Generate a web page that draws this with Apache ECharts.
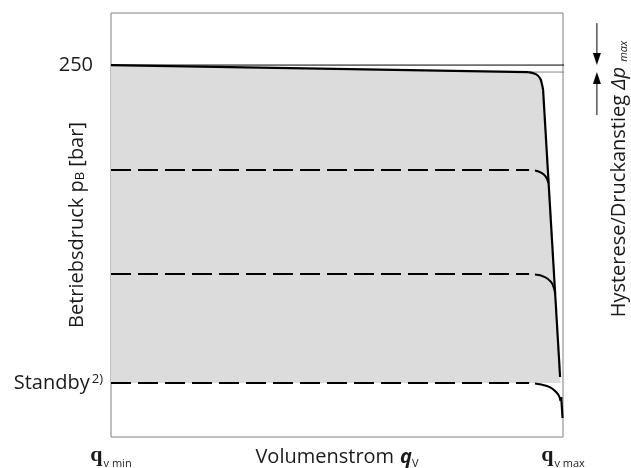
<!DOCTYPE html>
<html><head><meta charset="utf-8">
<script src="https://cdn.jsdelivr.net/npm/echarts@6.0.0/dist/echarts.min.js"></script>
<style>html,body{margin:0;padding:0;background:#fff}#c{width:631px;height:468px}</style>
</head><body><div id="c"></div>
<script>
// x: flow as % of q_v max, y: pressure in bar (schematic)
const xTicks = [0, 100];
const xTickLabels = ['v min', 'v max'];
const yTicks = [36.3, 250];
const yTickLabels = ['Standby', '250'];
const topLine = [[0, 250], [92.3, 245.3]];
const topCorner = [[92.3, 245.3], [94.0, 243.9], [94.9, 241.2], [95.3, 237.6], [95.6, 233.2]];
const steepSolid = [[95.6, 233.2], [99.36, 40.3]];
const steepDashed = [[99.6, 26.9], [99.9, 12.8]];
const levelA = [[0, 179.4], [92.5, 179.4]];
const cornerA = [[93.8, 179.1], [95.35, 177.4], [96.24, 174.7], [96.79, 170.7]];
const levelB = [[0, 109.5], [92.5, 109.5]];
const cornerB = [[93.8, 109.2], [96.0, 107.5], [97.35, 104.2], [98.0, 100.1], [98.27, 96.1]];
const levelC = [[0, 36.3], [92.5, 36.3]];
const cornerC = [[93.8, 36.0], [96.46, 34.3], [98.0, 31.6], [99.0, 28.2], [99.45, 24.2]];
const fillEdge = [[0, 250], [92.3, 245.3], [94.0, 243.9], [94.9, 241.2], [95.3, 237.6], [95.6, 233.2], [99.42, 36.3], [0, 36.3]];
const hystTop = [[0, 250], [108.8, 250]];
const hystBottom = [[92.3, 245.3], [108.8, 245.3]];
const arrowX = 107.5;
const arrowDown = [278.2, 250];
const arrowUp = [216.4, 245.3];

const chart = echarts.init(document.getElementById('c'), null, {renderer: 'canvas'});
const FONT = 'Open Sans';
const FS = 20;
const lineS = (data, extra) => Object.assign({
  type: 'line', data: data, symbol: 'none', silent: true, z: 5,
  lineStyle: {color: '#000', width: 2}
}, extra || {});

chart.setOption({
  animation: false,
  textStyle: {fontFamily: FONT, color: '#1a1a1a'},
  grid: {left: 111, right: 68, top: 13, bottom: 31, containLabel: false, outerBoundsMode: 'none',
    show: true, borderColor: '#808080', borderWidth: 1, backgroundColor: 'transparent'},
  xAxis: {
    type: 'value', min: 0, max: 100, interval: 100,
    axisLine: {show: false}, axisTick: {show: false}, splitLine: {show: false},
    axisLabel: {
      margin: 7,
      formatter: v => '{q|q}{s|' + xTickLabels[xTicks.indexOf(v)] + '}',
      rich: {
        q: {fontFamily: 'Liberation Serif', fontWeight: 'bold', fontSize: 22, color: '#1a1a1a', verticalAlign: 'bottom'},
        s: {fontFamily: FONT, fontSize: 11, color: '#1a1a1a', verticalAlign: 'bottom', padding: [0, 0, -3, 1]}
      }
    },
    name: 'Volumenstrom{q|q}{s|V}', nameLocation: 'middle', nameGap: 10, nameMoveOverlap: false,
    nameTextStyle: {fontFamily: FONT, fontSize: FS, color: '#1a1a1a', verticalAlign: 'top',
      rich: {
        q: {fontFamily: FONT, fontStyle: 'italic', fontWeight: 'bold', fontSize: FS, color: '#1a1a1a', padding: [0, 0, 0, 6]},
        s: {fontFamily: FONT, fontSize: 11, color: '#1a1a1a', verticalAlign: 'bottom', padding: [0, 0, -2, 0]}
      }
    }
  },
  yAxis: {
    type: 'value', min: 0, max: 285,
    axisLine: {show: false}, axisTick: {show: false}, splitLine: {show: false},
    axisLabel: {
      customValues: yTicks, margin: 8,
      formatter: v => v === 250 ? '{n|' + yTickLabels[1] + '}' : '{t|' + yTickLabels[0] + '}{sup|2)}',
      rich: {
        n: {fontFamily: FONT, fontSize: FS, color: '#1a1a1a', padding: [0, 10, 0, 0]},
        t: {fontFamily: FONT, fontSize: FS, color: '#1a1a1a'},
        sup: {fontFamily: FONT, fontSize: 13, color: '#1a1a1a', verticalAlign: 'top', padding: [0, 0, 0, 2]}
      }
    },
    name: 'Betriebsdruck p{b|B} [bar]', nameLocation: 'middle', nameGap: 24, nameMoveOverlap: false,
    nameTextStyle: {fontFamily: FONT, fontSize: FS, color: '#1a1a1a',
      rich: {b: {fontFamily: FONT, fontSize: 13, color: '#1a1a1a', verticalAlign: 'bottom'}}}
  },
  graphic: [{
    type: 'text', x: 619, y: 179, rotation: Math.PI / 2,
    style: {
      text: 'Hysterese/Druckanstieg {d|Δp} {m|max}',
      fontFamily: FONT, fontSize: FS, fill: '#1a1a1a', align: 'center', verticalAlign: 'middle',
      rich: {
        d: {fontFamily: FONT, fontStyle: 'italic', fontSize: FS, fill: '#1a1a1a'},
        m: {fontFamily: FONT, fontStyle: 'italic', fontSize: 11, fill: '#1a1a1a', verticalAlign: 'bottom'}
      }
    }
  }],
  series: [
    {
      type: 'custom', z: 1, silent: true, data: [[0, 0]],
      renderItem: (params, api) => ({
        type: 'polygon', shape: {points: fillEdge.map(p => api.coord(p))},
        style: {fill: '#dcdcdd'}
      })
    },
    lineS(levelA, {lineStyle: {color: '#000', width: 2, type: [20, 7]}}),
    lineS(levelB, {lineStyle: {color: '#000', width: 2, type: [20, 7]}}),
    lineS(levelC, {lineStyle: {color: '#000', width: 2, type: [20, 7]}}),
    lineS(cornerA, {smooth: 0.5}),
    lineS(cornerB, {smooth: 0.5}),
    lineS(cornerC, {smooth: 0.5}),
    lineS(topLine, {lineStyle: {color: '#000', width: 2.2}}),
    lineS(topCorner, {smooth: 0.5, lineStyle: {color: '#000', width: 2.2}}),
    lineS(steepSolid, {lineStyle: {color: '#000', width: 2.2}}),
    lineS(steepDashed, {lineStyle: {color: '#000', width: 2.2}}),
    lineS(hystTop, {clip: false, z: 6, lineStyle: {color: '#000', width: 1}}),
    lineS(hystBottom, {clip: false, z: 4, lineStyle: {color: '#888', width: 1}}),
    {
      type: 'custom', z: 6, silent: true, clip: false, data: [[0, 0]],
      renderItem: (params, api) => {
        const a0 = api.coord([arrowX, arrowDown[0]]), a1 = api.coord([arrowX, arrowDown[1]]);
        const b0 = api.coord([arrowX, arrowUp[0]]), b1 = api.coord([arrowX, arrowUp[1]]);
        const st = {stroke: '#000', lineWidth: 1};
        return {type: 'group', children: [
          {type: 'line', shape: {x1: a0[0], y1: a0[1], x2: a1[0], y2: a1[1] - 6}, style: st},
          {type: 'polygon', shape: {points: [[a1[0], a1[1]], [a1[0] - 4, a1[1] - 12], [a1[0] + 4, a1[1] - 12]]}, style: {fill: '#000'}},
          {type: 'line', shape: {x1: b0[0], y1: b0[1], x2: b1[0], y2: b1[1] + 6}, style: st},
          {type: 'polygon', shape: {points: [[b1[0], b1[1]], [b1[0] - 4, b1[1] + 12], [b1[0] + 4, b1[1] + 12]]}, style: {fill: '#000'}}
        ]};
      }
    }
  ]
});
</script></body></html>
